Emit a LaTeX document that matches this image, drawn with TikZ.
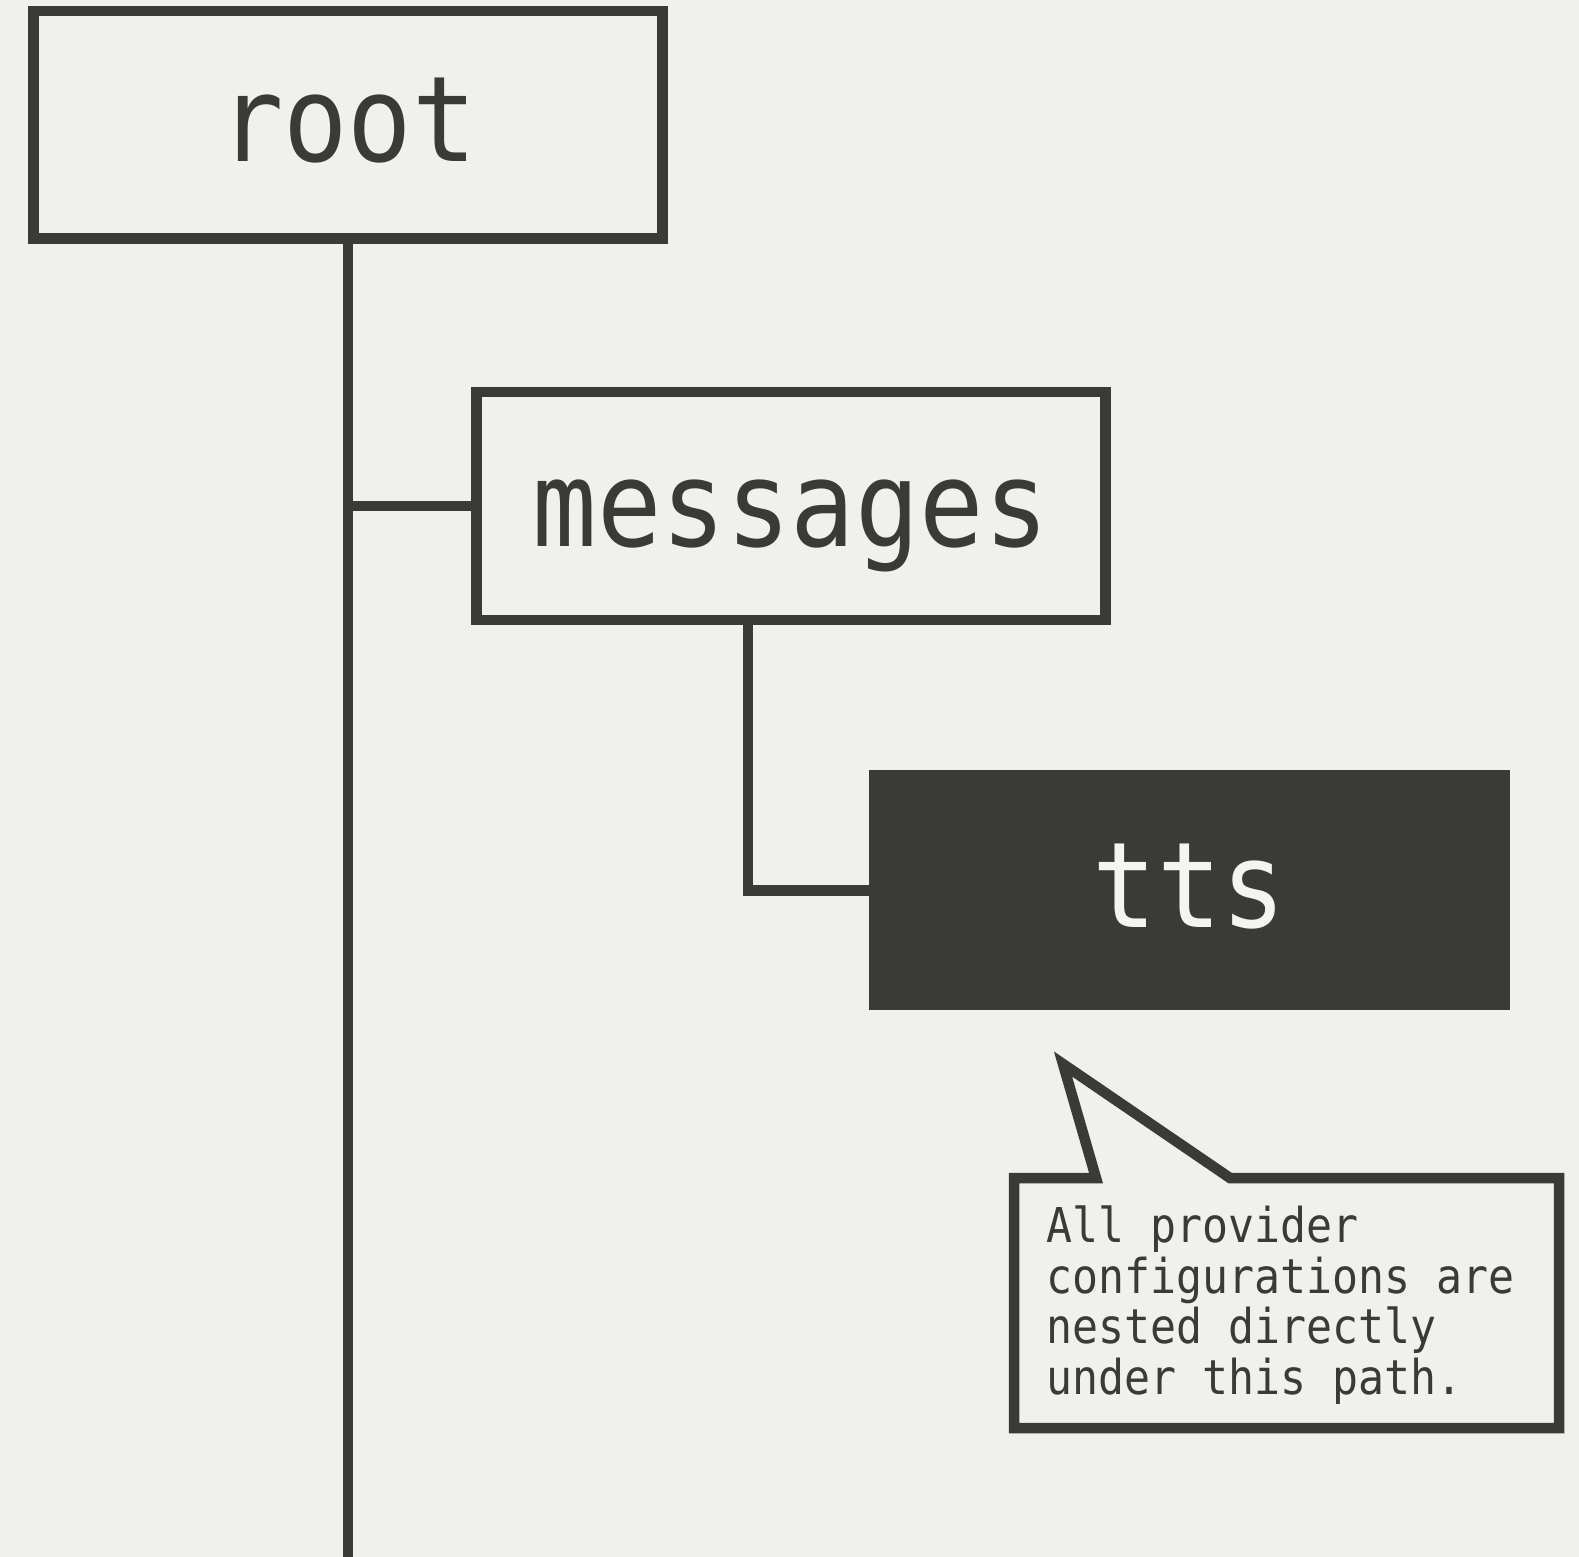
\documentclass[tikz,border=0pt]{standalone}
\usepackage{fontspec}
\newfontfamily\monofont[FakeStretch=0.9]{DejaVu Sans Mono}
\definecolor{bg}{HTML}{F0F1EC}
\definecolor{ink}{HTML}{3A3A38}
\definecolor{paper}{HTML}{F4F4F0}
\begin{document}
\begin{tikzpicture}[x=1pt,y=-1pt,
  box/.style={draw=ink, line width=10.5pt, fill=bg, inner sep=0pt, text=ink,
    font=\monofont\fontsize{119}{119}\selectfont, text depth=0pt},
  darkbox/.style={fill=ink, inner sep=0pt, text=paper,
    font=\monofont\fontsize{119}{119}\selectfont, text depth=0pt},
  link/.style={draw=ink, line width=10.5pt},
  callout/.style={draw=ink, line width=10.5pt, fill=bg, line join=miter},
  notetext/.style={inner sep=0pt, text=ink, align=left,
    font=\monofont\fontsize{48}{50.5}\selectfont}]
\fill[bg] (0,0) rectangle (1579,1557);
\useasboundingbox (0,0) rectangle (1579,1557);
% nodes
\node[box, minimum width=629pt, minimum height=227.5pt, text height=74pt] (root) at (348,124.75) {root};
\node[box, minimum width=628.7pt, minimum height=227.6pt, text height=80pt] (messages) at (790.9,506) {messages};
\node[darkbox, minimum width=640.5pt, minimum height=240pt, text height=74pt] (tts) at (1189.3,890.4) {tts};
% connectors
\coordinate (trunkend) at (348,1565);
\draw[link] (root.south) -- (root.south |- trunkend);
\draw[link] (messages.west) -- (messages.west -| root.south);
\draw[link] ([xshift=-43pt]messages.south) |- (tts.west);
% callout
\coordinate (tip) at (1063,1064);
\coordinate (cl) at (1014,1178);
\coordinate (cr) at (1559,1428);
\coordinate (bl) at (1096,1178);
\coordinate (br) at (1230,1178);
\draw[callout] (bl) -- (tip) -- (br) -- (cr |- cl) -- (cr) -- (cl |- cr) -- (cl) -- cycle;
\node[notetext, anchor=base west] (note) at (1046,1394) {All provider\\configurations are\\nested directly\\under this path.};
\end{tikzpicture}
\end{document}
